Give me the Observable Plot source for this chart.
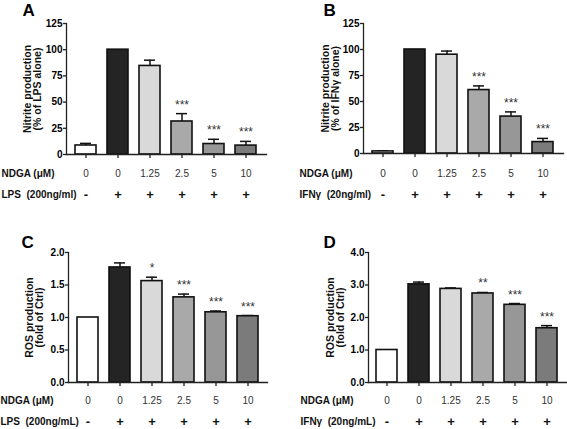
<!DOCTYPE html>
<html>
<head>
<meta charset="utf-8">
<script src="https://cdn.jsdelivr.net/npm/d3@7"></script>
<script src="https://cdn.jsdelivr.net/npm/@observablehq/plot@0.6"></script>
<style>
  html, body { margin: 0; padding: 0; background: #fff; }
  #wrap { position: relative; width: 567px; height: 429px; overflow: hidden; font-family: "Liberation Sans", Arial, sans-serif; }
  .panel { position: absolute; }
  .panel svg { display: block; overflow: visible; }
</style>
</head>
<body>
<div id="wrap">
  <div class="panel" id="pA" style="left:0;top:0"></div>
  <div class="panel" id="pB" style="left:283px;top:0"></div>
  <div class="panel" id="pC" style="left:0;top:215px"></div>
  <div class="panel" id="pD" style="left:283px;top:215px"></div>
</div>
<script>
// ---- data ----
const categories = ["Ctrl", "Stim", "N1.25", "N2.5", "N5", "N10"];
const ndgaLabels = ["0", "0", "1.25", "2.5", "5", "10"];
const treatSigns = ["-", "+", "+", "+", "+", "+"];
const barFills = ["#ffffff", "#242424", "#d9d9d9", "#a9a9a9", "#979797", "#7b7b7b"];

const valuesA = [8.6, 100, 84.5, 31.5, 10, 8.5];
const errorsA = [2, 0, 5.5, 7.5, 4.5, 4];
const starsA = ["", "", "", "***", "***", "***"];

const valuesB = [2, 100, 95, 61, 35.5, 11];
const errorsB = [0.6, 0, 3.5, 4, 4.5, 3.5];
const starsB = ["", "", "", "***", "***", "***"];

const valuesC = [1.0, 1.77, 1.56, 1.31, 1.08, 1.02];
const errorsC = [0, 0.07, 0.06, 0.05, 0.02, 0.01];
const starsC = ["", "", "*", "***", "***", "***"];

const valuesD = [1.0, 3.02, 2.88, 2.74, 2.39, 1.67];
const errorsD = [0, 0.07, 0.03, 0.03, 0.04, 0.08];
const starsD = ["", "", "", "**", "***", "***"];

const ticksA = [0, 25, 50, 75, 100, 125];
const ticksC = [0, 0.5, 1.0, 1.5, 2.0];
const ticksD = [0, 1.0, 2.0, 3.0, 4.0];

const panels = [
  {id: "pA", letter: "A", values: valuesA, errors: errorsA, stars: starsA, ticks: ticksA, fmt: d => String(d),
   ylabel: "Nitrite production\n(% of LPS alone)", treatLabel: "LPS\u00a0\u00a0(200ng/ml)",
   width: 283, height: 214, mt: 23, mb: 60, ml: 66, mr: 17, letterDx: -44, letterDy: -8, ylabDx: -34, rowDx: -65, row1: 19, row2: 40},
  {id: "pB", letter: "B", values: valuesB, errors: errorsB, stars: starsB, ticks: ticksA, fmt: d => String(d),
   ylabel: "Nitrite production\n(% of IFNγ alone)", treatLabel: "IFNγ\u00a0\u00a0(20ng/ml)",
   width: 284, height: 214, mt: 23, mb: 61, ml: 80, mr: 4, letterDx: -40, letterDy: -8, ylabDx: -33, rowDx: -64, row1: 20, row2: 41},
  {id: "pC", letter: "C", values: valuesC, errors: errorsC, stars: starsC, ticks: ticksC, fmt: d => d.toFixed(1),
   ylabel: "ROS production\n(fold of Ctrl)", treatLabel: "LPS\u00a0\u00a0(200ng/mL)",
   width: 283, height: 214, mt: 37, mb: 47, ml: 68, mr: 16, letterDx: -47, letterDy: -5, ylabDx: -34, rowDx: -68, row1: 18, row2: 39},
  {id: "pD", letter: "D", values: valuesD, errors: errorsD, stars: starsD, ticks: ticksD, fmt: d => d.toFixed(1),
   ylabel: "ROS production\n(fold of Ctrl)", treatLabel: "IFNγ\u00a0\u00a0(20ng/mL)",
   width: 284, height: 214, mt: 37, mb: 47, ml: 85, mr: 1, letterDx: -45, letterDy: -5, ylabDx: -33, rowDx: -68, row1: 18, row2: 39}
];

const font = "Liberation Sans, Arial, sans-serif";

for (const p of panels) {
  const rows = categories.map((c, i) => ({
    cat: c, value: p.values[i], err: p.errors[i], top: p.values[i] + p.errors[i],
    star: p.stars[i], fill: barFills[i], ndga: ndgaLabels[i], sign: treatSigns[i]
  }));
  const errRows = rows.filter(d => d.err > 0);
  const yMax = p.ticks[p.ticks.length - 1];
  const chart = Plot.plot({
    width: p.width,
    height: p.height,
    marginTop: p.mt,
    marginBottom: p.mb,
    marginLeft: p.ml,
    marginRight: p.mr,
    style: {fontFamily: font, background: "transparent", overflow: "visible"},
    x: {type: "band", domain: categories, paddingInner: 0.33, paddingOuter: 0.21, axis: null},
    y: {domain: [0, yMax], axis: null},
    marks: [
      Plot.ruleX(errRows, {x: "cat", y1: "value", y2: "top", stroke: "#111", strokeWidth: 1.5}),
      Plot.tickY(errRows, {x: "cat", y: "top", stroke: "#111", strokeWidth: 1.5, insetLeft: 5, insetRight: 5}),
      Plot.barY(rows, {x: "cat", y: "value", fill: "fill", stroke: "#111", strokeWidth: 1.6}),
      Plot.text(rows, {x: "cat", y: "top", text: "star", lineAnchor: "bottom", dy: -5, fontSize: 12, fill: "#333"}),
      Plot.frame({anchor: "left", stroke: "#222", strokeWidth: 1.3}),
      Plot.frame({anchor: "bottom", stroke: "#222", strokeWidth: 1.3}),
      Plot.axisY({ticks: p.ticks, tickFormat: p.fmt, tickSize: 3, tickPadding: 1, fontSize: 10, fontWeight: "bold", stroke: "#222", strokeWidth: 1.3, label: null}),
      Plot.axisX({ticks: categories, tickSize: 4, tickFormat: () => "", stroke: "#222", strokeWidth: 1.3, label: null}),
      // treatment rows
      Plot.text(rows, {x: "cat", frameAnchor: "bottom", dy: p.row1, text: "ndga", fontSize: 10, fill: "#333", lineAnchor: "middle"}),
      Plot.text(rows, {x: "cat", frameAnchor: "bottom", dy: p.row2, text: "sign", fontSize: 13, fontWeight: "bold", fill: "#111", lineAnchor: "middle"}),
      Plot.text(["NDGA (\u03bcM)"], {frameAnchor: "bottom-left", dx: p.rowDx, dy: p.row1, textAnchor: "start", fontSize: 10, fontWeight: "bold", fill: "#111", lineAnchor: "middle"}),
      Plot.text([p.treatLabel], {frameAnchor: "bottom-left", dx: p.rowDx, dy: p.row2, textAnchor: "start", fontSize: 10, fontWeight: "bold", fill: "#111", lineAnchor: "middle"}),
      // y label
      Plot.text([p.ylabel], {frameAnchor: "left", dx: p.ylabDx, rotate: -90, textAnchor: "middle", fontSize: 10.5, fontWeight: "bold", fill: "#111", lineAnchor: "middle", lineHeight: 1.0}),
      // panel letter
      Plot.text([p.letter], {frameAnchor: "top-left", dx: p.letterDx, dy: p.letterDy, textAnchor: "start", lineAnchor: "bottom", fontSize: 17, fontWeight: "bold", fill: "#000"})
    ]
  });
  document.getElementById(p.id).appendChild(chart);
}
</script>
</body>
</html>
